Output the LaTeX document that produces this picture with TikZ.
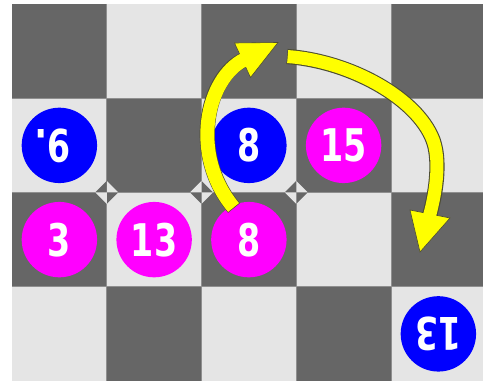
\documentclass[tikz,border=0pt]{standalone}
\usepackage{fontspec}
\setmainfont{Liberation Sans}
\newfontfamily\piecefont{DejaVu Sans}
\usetikzlibrary{positioning}

\definecolor{sqdark}{HTML}{666666}
\definecolor{sqlight}{HTML}{E5E5E5}
\definecolor{gridgray}{HTML}{8F8F8F}
\definecolor{piecepink}{HTML}{FF00FF}
\definecolor{pieceblue}{HTML}{0000FF}
\definecolor{jumpyellow}{HTML}{FFFF00}
\definecolor{jumpedge}{HTML}{4D4D33}

\newcommand{\cw}{94.75}
\newcommand{\ch}{94.25}
\newcommand{\digits}[1]{\scalebox{0.74}[1]{#1}}

\begin{document}
\begin{tikzpicture}[x=1pt, y=-1pt,
  piece/.style={circle, minimum size=75.4pt, inner sep=0pt, text=white,
    font=\piecefont\bfseries\fontsize{45}{45}\selectfont},
  pinkpiece/.style={piece, fill=piecepink},
  bluepiece/.style={piece, fill=pieceblue},
  flipped/.style={rotate=180},
  gridline/.style={draw=gridgray, line width=0.8pt},
  shaftedge/.style={draw=jumpedge, line width=15.2pt},
  shaftfill/.style={draw=jumpyellow, line width=14pt, shorten <=0.7pt, shorten >=-2pt},
  headfill/.style={fill=jumpyellow, draw=jumpedge, line width=0.6pt, line join=miter}
]
\useasboundingbox (0,0) rectangle (483,385);
\fill[white] (0,0) rectangle (483,385);
\clip (0,0) rectangle (483,385);

% board
\foreach \r in {0,...,3}
  \foreach \c in {0,...,4} {
    \pgfmathtruncatemacro{\odd}{mod(\r+\c,2)}
    \ifnum\odd=0 \def\sqcol{sqdark}\else\def\sqcol{sqlight}\fi
    \fill[\sqcol] ({12+\c*\cw},{4+\r*\ch}) rectangle ++(\cw,\ch);
  }
\foreach \c in {1,...,4}
  \draw[gridline] ({12+\c*\cw},4) -- ++(0,{4*\ch});
\foreach \r in {1,2,3}
  \draw[gridline] (12,{4+\r*\ch}) -- ++(480,0);

% corner marks
\foreach \c/\ca/\cb in {1/sqdark/sqlight, 2/sqlight/sqdark, 3/sqdark/sqlight} {
  \coordinate (corner\c) at ({12+\c*\cw},{4+2*\ch});
  \fill[\ca] (corner\c) ++(-11.5,0) -- ++(11.5,-11.5) -- ++(11.5,11.5) -- ++(-11.5,11.5) -- cycle;
  \fill[\cb] (corner\c) -- ++(0,-11.5) -- ++(11.5,11.5) -- cycle;
  \fill[\cb] (corner\c) -- ++(0,11.5) -- ++(-11.5,-11.5) -- cycle;
}

% pieces
\node[bluepiece, flipped] (b9)  at ({12+0.5*\cw},{4+1.5*\ch}) {\digits{9\rlap{.}}};
\node[bluepiece]          (b8)  at ({12+2.5*\cw},{4+1.5*\ch}) {\digits{8}};
\node[pinkpiece]          (p15) at ({12+3.5*\cw},{4+1.5*\ch}) {\digits{15}};
\node[pinkpiece]          (p3)  at ({12+0.5*\cw},{4+2.5*\ch}) {\digits{3}};
\node[pinkpiece]          (p13) at ({12+1.5*\cw},{4+2.5*\ch}) {\digits{13}};
\node[pinkpiece]          (p8)  at ({12+2.5*\cw},{4+2.5*\ch}) {\digits{8}};
\node[bluepiece, flipped] (b13) at ({12+4.5*\cw},{4+3.5*\ch}) {\digits{13}};

% first jump
\coordinate (jumpA tail) at (234,208);
\coordinate (jumpA base) at (242.5,60.5);
\coordinate (jumpA tip)  at (278,42.5);
\coordinate (jumpA barbL) at (234.5,43);
\coordinate (jumpA barbR) at (250.5,77.5);
\draw[shaftedge] (jumpA tail) .. controls (189,154) and (207,78) .. (jumpA base);
\filldraw[headfill] (jumpA barbL) -- (jumpA tip) -- (jumpA barbR) -- cycle;
\draw[shaftfill] (jumpA tail) .. controls (189,154) and (207,78) .. (jumpA base);

% second jump
\coordinate (jumpB tail) at (287,56.5);
\coordinate (jumpB bend) at (433,140);
\coordinate (jumpB base) at (430,214);
\coordinate (jumpB tip)  at (420,252);
\coordinate (jumpB barbL) at (410,210);
\coordinate (jumpB barbR) at (450,218);
\draw[shaftedge] (jumpB tail) .. controls (350,61) and (417,98) .. (jumpB bend)
  .. controls (440,159) and (437,188) .. (jumpB base);
\filldraw[headfill] (jumpB barbL) -- (jumpB tip) -- (jumpB barbR) -- cycle;
\draw[shaftfill, line width=13pt] (jumpB tail) .. controls (350,61) and (417,98) .. (jumpB bend)
  .. controls (440,159) and (437,188) .. (jumpB base);
\end{tikzpicture}
\end{document}
